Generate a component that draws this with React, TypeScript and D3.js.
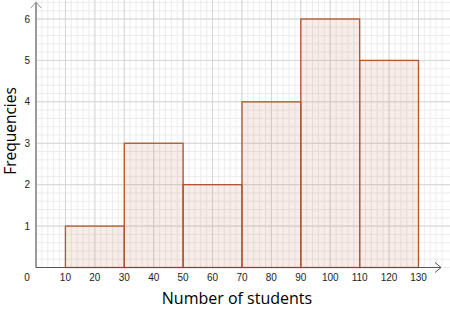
import React from "react";
import * as d3 from "d3";

const binStarts = [10, 30, 50, 70, 90, 110];
const binEnds = [30, 50, 70, 90, 110, 130];
const frequencies = [1, 3, 2, 4, 6, 5];
const xTickLabels = [0, 10, 20, 30, 40, 50, 60, 70, 80, 90, 100, 110, 120, 130];
const yTickLabels = [1, 2, 3, 4, 5, 6];

export default function App() {
  const W = 450, H = 322;
  const x = d3.scaleLinear().domain([0, 130]).range([36, 418.5]);
  const y = d3.scaleLinear().domain([0, 6]).range([267.5, 19]);
  const xMax = x.invert(446);
  const yMax = y.invert(0);

  const minorX = d3.range(0, xMax, 2);
  const majorX = d3.range(10, xMax, 10);
  const minorY = d3.range(0, yMax, 0.2);
  const majorY = d3.range(1, yMax, 1);

  const font = "'Liberation Sans', Arial, sans-serif";
  const bars = binStarts.map((s, i) => ({ s, e: binEnds[i], f: frequencies[i] }));

  return (
    <svg width={W} height={H} style={{ position: "absolute", left: 0, top: 0, background: "#fff" }}>
      <g>
        {minorX.map((v) => (
          <line key={"mx" + v} x1={x(v)} x2={x(v)} y1={0} y2={y(0)} stroke="#ececec" strokeWidth={1} />
        ))}
        {minorY.map((v) => (
          <line key={"my" + v} x1={x(0)} x2={W} y1={y(v)} y2={y(v)} stroke="#ececec" strokeWidth={1} />
        ))}
        {majorX.map((v) => (
          <line key={"Mx" + v} x1={x(v)} x2={x(v)} y1={0} y2={y(0)} stroke="#d6d6d6" strokeWidth={1} />
        ))}
        {majorY.map((v) => (
          <line key={"My" + v} x1={x(0)} x2={W} y1={y(v)} y2={y(v)} stroke="#d6d6d6" strokeWidth={1} />
        ))}
      </g>
      <g>
        {bars.map((b, i) => (
          <rect
            key={i}
            x={x(b.s)}
            y={y(b.f)}
            width={x(b.e) - x(b.s)}
            height={y(0) - y(b.f)}
            fill="rgba(190, 110, 70, 0.13)"
            stroke="#b4562c"
            strokeWidth={1.3}
          />
        ))}
      </g>
      {/* axes */}
      <line x1={x(0)} x2={x(0)} y1={y(0)} y2={2} stroke="#9a9a9a" strokeWidth={2} />
      <path d={`M${x(0) - 5},${8} L${x(0)},${2} L${x(0) + 5},${8}`} fill="none" stroke="#9a9a9a" strokeWidth={1} />
      <line x1={x(0)} x2={441} y1={y(0)} y2={y(0)} stroke="#555" strokeWidth={1.2} />
      <path d={`M${435},${y(0) - 5} L${441},${y(0)} L${435},${y(0) + 5}`} fill="none" stroke="#555" strokeWidth={1} />
      {yTickLabels.map((v) => (
        <text key={"yt" + v} x={30} y={y(v)} dy="0.35em" textAnchor="end" fontSize={10} fontFamily={font} fill="#222">
          {v}
        </text>
      ))}
      {xTickLabels.map((v) => (
        <text
          key={"xt" + v}
          x={v === 0 ? 27 : x(v)}
          y={y(0) + 13}
          textAnchor="middle"
          fontSize={10}
          fontFamily={font}
          fill="#222"
        >
          {v}
        </text>
      ))}
      <text x={237} y={304} textAnchor="middle" fontSize={16} fontFamily="'Open Sans', 'Noto Sans', sans-serif" fill="#000">
        Number of students
      </text>
      <text
        transform={`translate(16, 131) rotate(-90)`}
        textAnchor="middle"
        fontSize={15.5}
        fontFamily="'Open Sans', 'Noto Sans', sans-serif"
        fill="#000"
      >
        Frequencies
      </text>
    </svg>
  );
}
